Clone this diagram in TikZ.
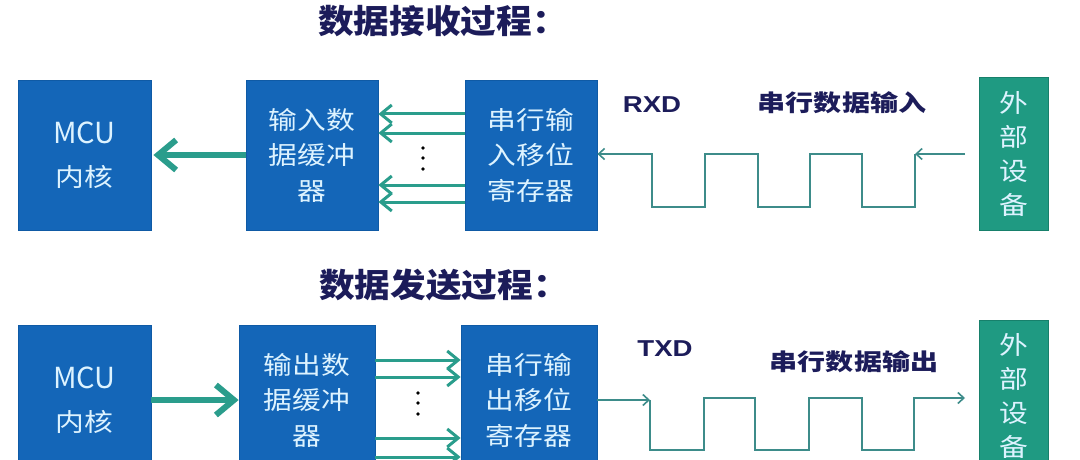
\documentclass[tikz,border=0pt]{standalone}
\usepackage{fontspec}
\usetikzlibrary{arrows.meta}
\newfontfamily\boxcjk[FakeStretch=1.15]{Noto Sans CJK SC}
\newfontfamily\mcufont{Noto Sans CJK SC}
\newfontfamily\titlefont[FakeStretch=1.08]{Noto Sans CJK SC}
\newfontfamily\labfont[FakeStretch=1.22]{Noto Sans CJK SC}
\newfontfamily\latfont[FakeStretch=1.2]{Liberation Sans}
\definecolor{boxblue}{HTML}{1466B8}
\definecolor{boxblueedge}{HTML}{0F5AA5}
\definecolor{boxgreen}{HTML}{1F9A82}
\definecolor{boxgreenedge}{HTML}{17806B}
\definecolor{arrteal}{HTML}{2A9D8C}
\definecolor{wavecol}{HTML}{3D8C8A}
\definecolor{navy}{HTML}{1C1C5A}
\definecolor{boxtext}{HTML}{DDF3FF}
\begin{document}
\begin{tikzpicture}[x=1pt,y=-1pt,
  bbox/.style={rectangle, fill=boxblue, draw=boxblueedge, line width=0.8pt, inner sep=0pt,
    text=boxtext, align=center, font=\boxcjk\fontsize{25}{35.5}\selectfont},
  gbox/.style={rectangle, fill=boxgreen, draw=boxgreenedge, line width=1pt, inner sep=0pt,
    text=boxtext, align=center, font=\boxcjk\fontsize{25}{34}\selectfont},
  titletext/.style={text=navy, font=\titlefont\bfseries\fontsize{33}{40}\selectfont, inner sep=0pt},
  labeltext/.style={text=navy, font=\labfont\bfseries\fontsize{23}{28}\selectfont, inner sep=0pt},
  lattext/.style={text=navy, font=\latfont\bfseries\fontsize{23}{27}\selectfont, inner sep=0pt},
  busarrow/.style={draw=arrteal, line width=3pt, -{Straight Barb[length=11pt,width=18pt]}},
  bigarrow/.style={draw=arrteal, line width=6pt, -{Straight Barb[length=18pt,width=30pt]}},
  wavearrow/.style={draw=wavecol, line width=1.6pt, -{Straight Barb[length=6pt,width=11pt]}},
  dotmark/.style={fill=black}
]
\useasboundingbox (0,0) rectangle (1080,460);
\clip (0,0) rectangle (1080,460);
\fill[white] (0,0) rectangle (1080,460);

% ---------- titles ----------
\node[titletext] (title1) at (443,21) {数据接收过程：};
\node[titletext] (title2) at (444,285) {数据发送过程：};

% ---------- top row (receive) ----------
\node[bbox, minimum width=133, minimum height=150] (mcu1) at (84.5,155)
  {{\mcufont\fontsize{29}{30}\selectfont MCU}\\[7pt]内核};
\node[bbox, minimum width=132, minimum height=150] (buf1) at (312,155) {输入数\\据缓冲\\器};
\node[bbox, minimum width=132, minimum height=150] (sh1) at (531,155) {串行输\\入移位\\寄存器};
\node[gbox, minimum width=69, minimum height=152] (ext1) at (1014,154) {外\\部\\设\\备};

\node[lattext] (rxd) at (652,105) {RXD};
\node[labeltext] (rxl) at (842,103) {串行数据输入};

\coordinate (ya1) at (0,114);
\coordinate (ya2) at (0,133);
\coordinate (ya3) at (0,185);
\coordinate (ya4) at (0,202);
\foreach \c in {ya1,ya2,ya3,ya4}
  \draw[busarrow] (sh1.west |- \c) -- (buf1.east |- \c);
\foreach \yy in {148,158,169}
  \fill[dotmark] (423,\yy) circle (1.8);

\coordinate (t1) at (0,155);
\draw[bigarrow, shorten >=2pt] (buf1.west |- t1) -- (mcu1.east |- t1);

\coordinate (w1a) at (915,154);
\draw[wavearrow, shorten <=14pt] (ext1.west |- w1a) -- (w1a);
\draw[wavearrow] (w1a) -- (915,207) -- (862,207) -- (862,154) -- (810,154) -- (810,207)
  -- (758,207) -- (758,154) -- (705,154) -- (705,207) -- (652,207) -- (652,154)
  -- (sh1.east |- w1a);

% ---------- bottom row (send) ----------
\node[bbox, minimum width=133, minimum height=150] (mcu2) at (84.5,400)
  {{\mcufont\fontsize{29}{30}\selectfont MCU}\\[7pt]内核};
\node[bbox, minimum width=136, minimum height=150] (buf2) at (307,400) {输出数\\据缓冲\\器};
\node[bbox, minimum width=136, minimum height=150] (sh2) at (529,400) {串行输\\出移位\\寄存器};
\node[gbox, minimum width=69, minimum height=152] (ext2) at (1014,396) {外\\部\\设\\备};

\node[lattext] (txd) at (665,349) {TXD};
\node[labeltext] (txl) at (854,362) {串行数据输出};

\coordinate (yb1) at (0,360);
\coordinate (yb2) at (0,377);
\coordinate (yb3) at (0,438);
\coordinate (yb4) at (0,457);
\foreach \c in {yb1,yb2,yb3,yb4}
  \draw[busarrow] (buf2.east |- \c) -- (sh2.west |- \c);
\foreach \yy in {393,403,414}
  \fill[dotmark] (418,\yy) circle (1.8);

\coordinate (t2) at (0,400);
\draw[bigarrow] (mcu2.east |- t2) -- (buf2.west |- t2);

\coordinate (w2a) at (650,400);
\coordinate (w2b) at (914,398);
\draw[wavearrow] (sh2.east |- w2a) -- (w2a);
\draw[wavearrow, shorten >=14pt] (w2a) -- (650,450) -- (704,450) -- (704,398) -- (755,398)
  -- (755,450) -- (809,450) -- (809,398) -- (862,398) -- (862,450) -- (914,450) -- (w2b)
  -- (ext2.west |- w2b);
\end{tikzpicture}
\end{document}
